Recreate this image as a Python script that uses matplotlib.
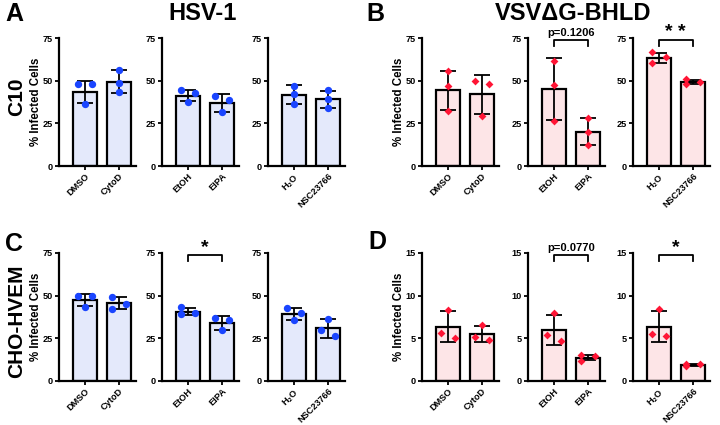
import matplotlib
matplotlib.use("Agg")
import matplotlib.pyplot as plt

plt.rcParams['font.family'] = ['Liberation Sans', 'DejaVu Sans']
plt.rcParams['font.weight'] = 'bold'
plt.rcParams['mathtext.fontset'] = 'custom'
plt.rcParams['mathtext.rm'] = 'Liberation Sans:bold'
plt.rcParams['mathtext.bf'] = 'Liberation Sans:bold'

# tick labels for the three sub plots of every panel
labels1 = ["DMSO", "CytoD"]
labels2 = ["EtOH", "EIPA"]
labels3 = [r"H$_2$O", "NSC23766"]

# A: HSV-1 on C10
A_pts = [[[47.8, 47.8, 36.6], [56.1, 48.7, 43.3]],
         [[44.7, 42.7, 37.7], [41.2, 38.9, 31.6]],
         [[47.0, 42.4, 36.6], [44.4, 39.4, 34.0]]]
A_mean = [[43.5, 49.4], [41.2, 37.0], [41.8, 39.0]]
A_sd = [[6.5, 6.9], [3.4, 5.2], [5.5, 5.2]]

# B: VSVdG-BHLD on C10
B_pts = [[[55.5, 46.8, 32.5], [50.0, 48.1, 29.2]],
         [[61.8, 47.5, 26.1], [28.3, 20.0, 12.4]],
         [[66.6, 64.0, 60.4], [51.0, 49.0, 47.8]]]
B_mean = [[44.4, 42.0], [45.2, 20.1], [63.3, 49.1]]
B_sd = [[11.5, 11.6], [18.0, 7.9], [3.1, 1.3]]

# C: HSV-1 on CHO-HVEM
C_pts = [[[49.7, 49.7, 43.3], [49.1, 45.2, 42.3]],
         [[43.1, 39.9, 39.0], [37.2, 36.0, 29.6]],
         [[43.0, 40.0, 35.6], [36.5, 29.7, 26.4]]]
C_mean = [[47.5, 45.6], [40.7, 34.0], [39.2, 30.8]]
C_sd = [[3.7, 3.6], [2.0, 4.0], [3.7, 5.4]]

# D: VSVdG-BHLD on CHO-HVEM
D_pts = [[[8.35, 5.06, 5.64], [6.54, 4.79, 5.17]],
         [[7.98, 4.74, 5.34], [3.08, 2.37, 2.88]],
         [[8.44, 5.30, 5.50], [1.75, 2.00, 2.00]]]
D_mean = [[6.35, 5.5], [6.0, 2.75], [6.35, 1.92]]
D_sd = [[1.8, 0.9], [1.75, 0.3], [1.8, 0.12]]

# significance marks: (sub plot index, text)
B_sig = [(1, "p=0.1206"), (2, "* *")]
C_sig = [(1, "*")]
D_sig = [(1, "p=0.0770"), (2, "*")]

BLUE_FILL = "#e4e9fb"
BLUE_DOT = "#1a45ff"
RED_FILL = "#fde5e7"
RED_DOT = "#ff1535"

W, H = 720, 425
fig = plt.figure(figsize=(W / 100, H / 100), dpi=100)


def px_axes(x0, ytop, w, h):
    return fig.add_axes([x0 / W, 1 - (ytop + h) / H, w / W, h / H])


def jitter(pts, thr):
    # spread points that would overlap sideways
    order = sorted(range(len(pts)), key=lambda i: -pts[i])
    offs = [0.0] * len(pts)
    clusters = [[order[0]]]
    for i in order[1:]:
        if abs(pts[clusters[-1][-1]] - pts[i]) < thr:
            clusters[-1].append(i)
        else:
            clusters.append([i])
    for cl in clusters:
        if len(cl) == 2:
            offs[cl[0]], offs[cl[1]] = -0.2, 0.2
        elif len(cl) == 3:
            offs[cl[0]], offs[cl[1]], offs[cl[2]] = -0.2, 0.2, -0.2
    return offs


def draw_sub(ax, pts, means, sds, labels, ymax, fill, dot, marker, size, first):
    x = [0, 1]
    ax.bar(x, means, width=0.7, color=fill, edgecolor="black", linewidth=1.6, zorder=1)
    ax.errorbar(x, means, yerr=sds, fmt="none", ecolor="black", elinewidth=1.3,
                capsize=5.5, capthick=1.3, zorder=2)
    for i in range(2):
        offs = jitter(pts[i], ymax * 0.055)
        ax.scatter([x[i] + o for o in offs], pts[i], s=size, color=dot,
                   marker=marker, zorder=3, linewidths=0)
    ax.set_xlim(-0.75, 1.5)
    ax.set_ylim(0, ymax)
    ax.set_yticks([0, ymax / 3, 2 * ymax / 3, ymax])
    ax.set_yticklabels(["%d" % v for v in [0, ymax / 3, 2 * ymax / 3, ymax]])
    ax.set_xticks(x)
    ax.set_xticklabels(labels, rotation=45, ha="right", rotation_mode="anchor")
    for s in ["top", "right"]:
        ax.spines[s].set_visible(False)
    for s in ["left", "bottom"]:
        ax.spines[s].set_linewidth(1.6)
    ax.tick_params(axis="both", labelsize=6.6, width=1.3, length=3, pad=1.2)
    for t in ax.get_xticklabels() + ax.get_yticklabels():
        t.set_fontweight("bold")
    if first:
        ax.set_ylabel("% Infected Cells", fontsize=8.3, fontweight="bold", labelpad=1)


def draw_sig(ax, text, ymax):
    top = ymax * 0.987
    tip = ymax * 0.935
    ax.plot([0, 0, 1, 1], [tip, top, top, tip], color="black", lw=1.3, clip_on=False)
    if text.startswith("p"):
        ax.text(0.5, top + ymax * 0.015, text, ha="center", va="bottom",
                fontsize=8, fontweight="bold")
    else:
        ax.text(0.5, top - ymax * 0.01, text, ha="center", va="bottom",
                fontsize=14, fontweight="bold")


panels = [
    (A_pts, A_mean, A_sd, 75, BLUE_FILL, BLUE_DOT, "o", 28, [59, 162, 268], 38, []),
    (B_pts, B_mean, B_sd, 75, RED_FILL, RED_DOT, "D", 16, [422, 528, 633], 38, B_sig),
    (C_pts, C_mean, C_sd, 75, BLUE_FILL, BLUE_DOT, "o", 28, [59, 162, 268], 253, C_sig),
    (D_pts, D_mean, D_sd, 15, RED_FILL, RED_DOT, "D", 16, [422, 528, 633], 253, D_sig),
]
all_labels = [labels1, labels2, labels3]

for pts, means, sds, ymax, fill, dot, mk, ms, xs, ytop, sig in panels:
    axes = []
    for k in range(3):
        ax = px_axes(xs[k], ytop, 77, 128)
        draw_sub(ax, pts[k], means[k], sds[k], all_labels[k], ymax, fill, dot,
                 mk, ms, k == 0)
        axes.append(ax)
    for k, txt in sig:
        draw_sig(axes[k], txt, ymax)

# panel letters, titles and row labels
for txt, x, y in [("A", 14, 14), ("B", 375, 14), ("C", 14, 244), ("D", 377, 242)]:
    fig.text(x / W, 1 - y / H, txt, fontsize=18, fontweight="bold", ha="center", va="center")
fig.text(203 / W, 1 - 13 / H, "HSV-1", fontsize=17, fontweight="bold", ha="center", va="center")
fig.text(573 / W, 1 - 13 / H, "VSVΔG-BHLD", fontsize=17, fontweight="bold", ha="center", va="center")
fig.text(17 / W, 1 - 97 / H, "C10", fontsize=15, fontweight="bold", rotation=90,
         ha="center", va="center")
fig.text(17 / W, 1 - 321 / H, "CHO-HVEM", fontsize=15, fontweight="bold", rotation=90,
         ha="center", va="center")

fig.savefig("out.png", dpi=100)
